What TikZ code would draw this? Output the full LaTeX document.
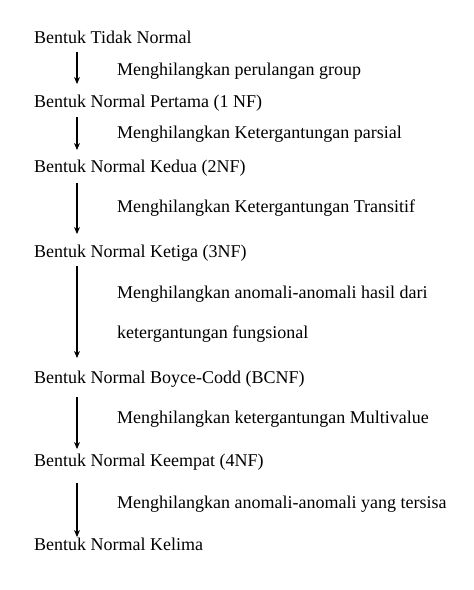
\documentclass[tikz,border=0pt]{standalone}
\usepackage{fontspec}
\setmainfont{Liberation Serif}
\usetikzlibrary{arrows.meta}

\tikzset{
    form/.style={anchor=base west, inner sep=0pt, font=\fontsize{18}{22}\selectfont},
    drop/.style={-{Stealth[length=7pt,width=6pt]}, line width=1.1pt}
}

\begin{document}
\begin{tikzpicture}[x=1pt,y=-1pt]
    \useasboundingbox (0,0) rectangle (474,590);

    \node[form] (nf0) at (34,43) {Bentuk Tidak Normal};
    \node[form] (nf1) at (34,107) {Bentuk Normal Pertama (1 NF)};
    \node[form] (nf2) at (34,172) {Bentuk Normal Kedua (2NF)};
    \node[form] (nf3) at (34,257) {Bentuk Normal Ketiga (3NF)};
    \node[form] (nf4) at (34,383) {Bentuk Normal Boyce-Codd (BCNF)};
    \node[form] (nf5) at (34,466) {Bentuk Normal Keempat (4NF)};
    \node[form] (nf6) at (34,550) {Bentuk Normal Kelima};

    \node[form] (h1) at (117,75) {Menghilangkan perulangan group};
    \node[form] (h2) at (117,138) {Menghilangkan Ketergantungan parsial};
    \node[form] (h3) at (117,212) {Menghilangkan Ketergantungan Transitif};
    \node[form] (h4) at (117,298) {Menghilangkan anomali-anomali hasil dari};
    \node[form] (h4b) at (117,338) {ketergantungan fungsional};
    \node[form] (h5) at (117,423) {Menghilangkan ketergantungan Multivalue};
    \node[form] (h6) at (117,508) {Menghilangkan anomali-anomali yang tersisa};

    \coordinate (a1) at (77,52);  \coordinate (b1) at (77,84);
    \coordinate (a2) at (77,117); \coordinate (b2) at (77,150);
    \coordinate (a3) at (77,183); \coordinate (b3) at (77,234);
    \coordinate (a4) at (77,266); \coordinate (b4) at (77,358);
    \coordinate (a5) at (77,397); \coordinate (b5) at (77,449);
    \coordinate (a6) at (77,483); \coordinate (b6) at (77,537);

    \path [drop] (a1) edge node {} (b1);
    \path [drop] (a2) edge node {} (b2);
    \path [drop] (a3) edge node {} (b3);
    \path [drop] (a4) edge node {} (b4);
    \path [drop] (a5) edge node {} (b5);
    \path [drop] (a6) edge node {} (b6);
\end{tikzpicture}
\end{document}
